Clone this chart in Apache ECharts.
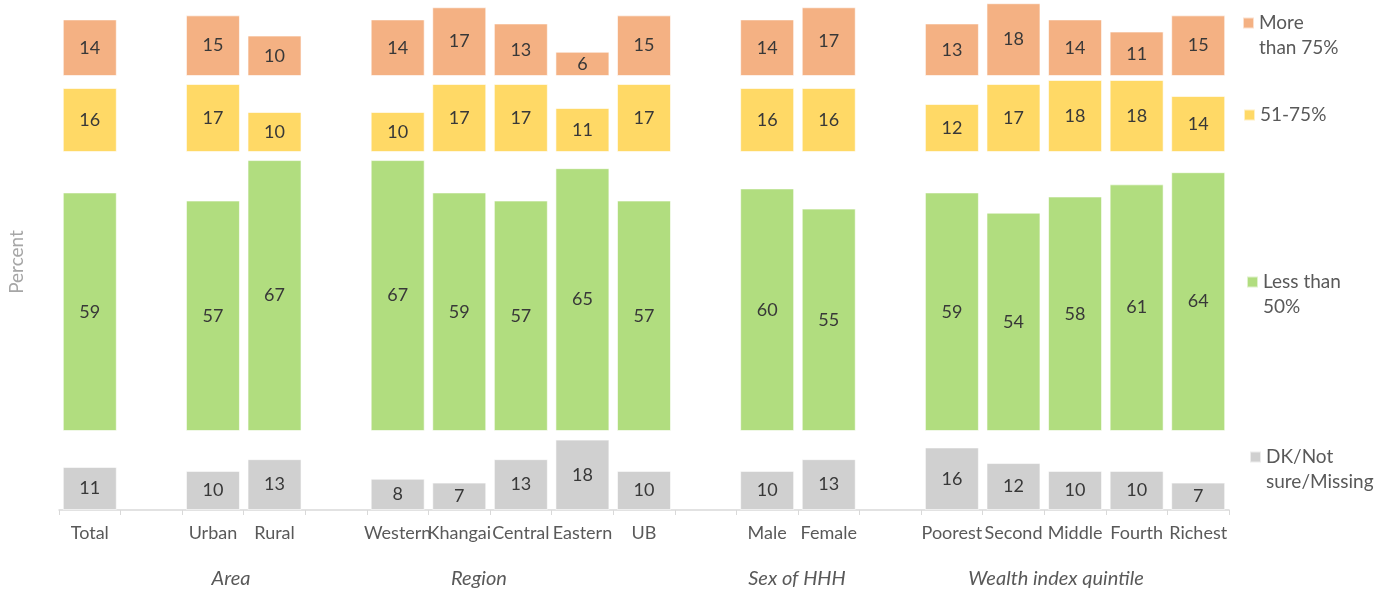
<!DOCTYPE html>
<html>
<head>
<meta charset="utf-8">
<script src="https://cdn.jsdelivr.net/npm/echarts@6/dist/echarts.min.js"></script>
<style>
html,body{margin:0;padding:0;background:#fff}
#divApp{width:1400px;height:590px}
</style>
</head>
<body>
<div id="divApp"></div>
<script>
// categories (blank slots separate the groups)
var cats = ['Total',' ','Urban','Rural','  ','Western','Khangai','Central','Eastern','UB','   ','Male','Female','    ','Poorest','Second','Middle','Fourth','Richest']
var more75  = [14,null,15,10,null,14,17,13,6,15,null,14,17,null,13,18,14,11,15]
var mid5175 = [16,null,17,10,null,10,17,17,11,17,null,16,16,null,12,17,18,18,14]
var less50  = [59,null,57,67,null,67,59,57,65,57,null,60,55,null,59,54,58,61,64]
var dkMiss  = [11,null,10,13,null,8,7,13,18,10,null,10,13,null,16,12,10,10,7]
var seriesNames = ['More\nthan 75%','51-75%','Less than\n50%','DK/Not\nsure/Missing']
var groupLabels = ['Area','Region','Sex of HHH','Wealth index quintile']

var FONT = 'Lato, "Open Sans", sans-serif'
var colors = ['#F4B183','#FFD966','#B1DD7F','#D0D0D0']
var txt = '#595959'
var LH = 25

// panels, top to bottom: [top, height, yMax]
var panels = [[0,76,18.8],[76,76,19],[152,279,69],[431,79,20.2]]
var vals = [more75, mid5175, less50, dkMiss]
var legendY = [22,114,281,456]   // centre of first text line
var legendX = [1242,1243,1246,1249]
var groupX = [231,479,797,1056]

// square icon sitting on the first text line of a multi-line legend entry
var topIcon = n=>`path://M0,0L0,0Z M0,${LH/2-5.5}L11,${LH/2-5.5}L11,${LH/2+5.5}L0,${LH/2+5.5}Z M0,${LH*n}L0,${LH*n}Z`

var grids = [], xAxes = [], yAxes = [], series = [], legends = []
panels.forEach((p,i)=>{
  grids.push({left:59, right:171, top:p[0], height:p[1]})
  var last = i==panels.length-1
  xAxes.push({
    type:'category', gridIndex:i, data:cats, show:last,
    axisLine:{show:last, lineStyle:{color:'#D9D9D9', width:1.5}},
    axisTick:{show:last, length:5, lineStyle:{color:'#D9D9D9'}},
    axisLabel:{interval:0, margin:14, color:txt, fontSize:18, fontFamily:FONT}
  })
  yAxes.push({type:'value', gridIndex:i, min:0, max:p[2], show:false, splitLine:{show:false}})
  series.push({
    name:seriesNames[i], type:'bar', xAxisIndex:i, yAxisIndex:i,
    data:vals[i], barWidth:54,
    itemStyle:{color:colors[i], borderColor:'rgba(255,255,255,0.6)', borderWidth:1},
    label:{show:true, position:'inside', color:'#383838', fontSize:18, fontFamily:FONT},
    emphasis:{disabled:true}
  })
  var n = seriesNames[i].split('\n').length
  legends.push({
    data:[{name:seriesNames[i], icon:topIcon(n)}], left:legendX[i], top:legendY[i]-LH/2, padding:0,
    itemWidth:11, itemHeight:LH*n, itemGap:0,
    selectedMode:false,
    textStyle:{color:txt, fontSize:19, fontFamily:FONT, lineHeight:LH}
  })
})

var graphics = groupLabels.map((s,i)=>({
  type:'text', x:groupX[i], y:579,
  style:{text:s, fill:txt, font:'italic 20px '+FONT, align:'center', verticalAlign:'middle'}
}))
graphics.push({
  type:'text', x:17, y:262, rotation:Math.PI/2,
  style:{text:'Percent', fill:'#A6A6A6', font:'19px '+FONT, align:'center', verticalAlign:'middle'}
})

var chart = echarts.init(document.getElementById('divApp'))
chart.setOption({
  animation:false,
  grid:grids, xAxis:xAxes, yAxis:yAxes,
  legend:legends,
  series:series,
  graphic:graphics
})
</script>
</body>
</html>
